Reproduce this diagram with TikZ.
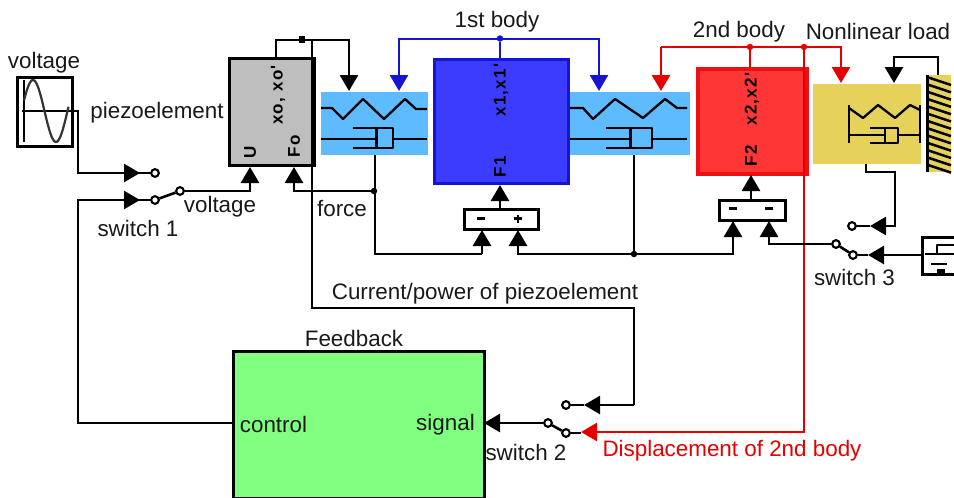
\documentclass[tikz,border=0pt]{standalone}
\usepackage{fontspec}
\setmainfont{Liberation Sans}
\newfontfamily\blkfont[LetterSpace=8]{Liberation Sans}
\usetikzlibrary{arrows.meta}
\definecolor{gfill}{HTML}{BEBEBE}
\definecolor{skyb}{HTML}{5FBBFF}
\definecolor{bluef}{HTML}{3C3CFF}
\definecolor{blued}{HTML}{1414D2}
\definecolor{redf}{HTML}{FF3636}
\definecolor{redd}{HTML}{EE1010}
\definecolor{yell}{HTML}{E6D25A}
\definecolor{greenf}{HTML}{80FF80}
\tikzset{
  lbl/.style={inner sep=0pt,yshift=-1.5pt,font=\fontsize{22.4}{24}\selectfont,text=black!90},
  vlbl/.style={inner sep=0pt,rotate=90,font=\blkfont\fontsize{17}{18}\bfseries\selectfont},
  wire/.style={line width=2.6pt,draw=black,line join=miter},
  bwire/.style={line width=2.6pt,draw=blued},
  rwire/.style={line width=2.6pt,draw=red!90!black},
  arr/.style={-{Triangle[length=16pt,width=18pt]}},
  swc/.style={circle,draw=black,line width=2pt,fill=white,minimum size=7.5pt,inner sep=0pt},
  jct/.style={circle,fill=black,minimum size=6.5pt,inner sep=0pt},
  block/.style={rectangle,anchor=north west,inner sep=0pt},
  sym/.style={line width=2.3pt,draw=black,line join=round},
  sumbox/.style={block,draw=black,line width=2.6pt,fill=white}
}
\begin{document}
\begin{tikzpicture}[x=1pt,y=-1pt]
\useasboundingbox (0,0) rectangle (954,498);
\clip (0,0) rectangle (954,498);

% ---------- filled blocks
\node[block,draw=black,line width=3pt,fill=gfill,minimum width=85pt,minimum height=107pt] (piezo) at (228,57) {};
\node[block,fill=skyb,minimum width=107pt,minimum height=63pt] (spr1) at (321,92) {};
\node[block,fill=skyb,minimum width=120pt,minimum height=63pt] (spr2) at (570,92) {};
\node[block,draw=blued,line width=3pt,fill=bluef,minimum width=134pt,minimum height=124pt] (body1) at (433,58) {};
\node[block,draw=redd,line width=3.5pt,fill=redf,minimum width=109pt,minimum height=105pt] (body2) at (696,67) {};
\node[block,fill=yell,minimum width=108pt,minimum height=80pt] (load) at (813,84) {};
\node[block,fill=yell,minimum width=25pt,minimum height=97pt] (wall) at (926,75) {};
\node[block,draw=black,line width=2.6pt,fill=greenf,minimum width=251pt,minimum height=147pt] (fb) at (232,350) {};
\node[block,draw=black,line width=2.6pt,fill=white,minimum width=55pt,minimum height=69pt] (src) at (16,76) {};
\node[sumbox,minimum width=74pt,minimum height=20pt] (sum1) at (463,208) {};
\node[sumbox,minimum width=66pt,minimum height=20pt] (sum2) at (718,199) {};
\node[block,draw=black,line width=2.6pt,minimum width=50pt,minimum height=37pt] (batt) at (921,236) {};

% ---------- source symbol
\draw[line width=2.6pt] (24,80) -- (24,142);
\draw[line width=2.2pt] (22,111) -- (71,111);
\draw[line width=2.2pt,black!80] plot[smooth,domain=24:68.5,samples=40] (\x,{111-31*sin(7.826*(\x-21.5))});

% ---------- spring/damper 1
\draw[sym] (321,108) -- (332,108) -- (343,119) -- (363,99) -- (384,119) -- (405,99) -- (416,109) -- (427,109);
\draw[sym] (321,139) -- (376,139) (393,139) -- (427,139);
\draw[sym] (353,128) -- (393,128) -- (393,148) -- (353,148);
\draw[line width=3pt] (376,128) -- (376,148);
% ---------- spring/damper 2
\draw[sym] (570,108) -- (583,108) -- (593,119) -- (615,99) -- (643,118) -- (665,99) -- (677,108) -- (687,108);
\draw[sym] (570,139) -- (630,139) (652,139) -- (687,139);
\draw[sym] (606,128) -- (652,128) -- (652,148) -- (606,148);
\draw[line width=3pt] (630,128) -- (630,148);
% ---------- nonlinear load symbol
\draw[line width=2.8pt] (849,105) -- (849,143) (920,105) -- (920,143);
\draw[sym] (849,108) -- (863,118) -- (878,105) -- (895,118) -- (910,105) -- (920,110);
\draw[sym] (849,135) -- (885,135) (898,135) -- (920,135);
\draw[sym] (870,128) -- (898,128) -- (898,143) -- (870,143);
\draw[line width=2.8pt] (885,128) -- (885,143);
% ---------- wall hatching
\draw[line width=3pt] (927,75) -- (927,172);
\foreach \k in {0,...,12}{
  \draw[line width=2.5pt] (927,{77+7.3*\k}) -- (951,{85+7.3*\k});
}
% ---------- battery symbol
\draw[sym] (925,254) -- (954,254) (937,254) -- (937,245) -- (954,245) (931,264) -- (947,264);
\draw[line width=3.5pt] (937,271) -- (945,271);

% ---------- sum signs
\draw[line width=2.2pt] (477,218.5) -- (485,218.5) (514,218.5) -- (522,218.5) (518,214.5) -- (518,222.5);
\draw[line width=2.2pt] (729,208.5) -- (737,208.5) (765,208.5) -- (773,208.5);

% ---------- switch contacts and junctions
\node[swc] (s1a) at (155,173) {};
\node[swc] (s1b) at (155,200) {};
\node[swc] (s1c) at (180,191) {};
\node[swc] (s2a) at (566,405) {};
\node[swc] (s2b) at (566,433) {};
\node[swc] (s2c) at (548,423) {};
\node[swc] (s3a) at (852,226) {};
\node[swc] (s3b) at (853,255) {};
\node[swc] (s3c) at (836,244) {};
\node[jct,rectangle,minimum size=6.5pt] (jtop) at (302,39.5) {};
\node[jct] (jforce) at (374,191) {};
\node[jct] (jd2) at (634,254) {};
\node[jct,fill=blued] (jblue) at (500,38.5) {};
\node[jct,fill=red] (jr1) at (750,47) {};
\node[jct,fill=red] (jr2) at (804,47) {};

% ---------- free-end coordinates
\coordinate (tU) at (250,167);
\coordinate (tF) at (294,167);
\coordinate (tS1) at (349,91);
\coordinate (tB1) at (399,91);
\coordinate (tB2) at (599,91);
\coordinate (tR1) at (661,91);
\coordinate (tR2) at (841,83);
\coordinate (tW) at (894,83);
\coordinate (tA) at (140,173);
\coordinate (tB) at (140,200);
\coordinate (t1) at (500,185);
\coordinate (t2) at (751,175);

% ---------- black connectors
\draw[wire] (232,423) -- (78,423) -- (78,200) -- (s1b);
\draw[wire] (71,111) -- (78,111) -- (78,173) -- (s1a);
\draw[wire,arr] (78,173) -- (tA);
\draw[wire,arr] (78,200) -- (tB);
\draw[wire] (s1b) -- (s1c);
\draw[wire,arr] (s1c) -- (250,191) -- (tU);
\draw[wire,arr] (jforce) -- (294,191) -- (tF);
\draw[wire,arr] (276,57) -- (276,40) -- (349,40) -- (tS1);
\draw[wire] (312,40) -- (312,308) -- (634,308) -- (634,405);
\draw[wire,arr] (634,405) -- (584,405);
\draw[wire] (584,405) -- (s2a);
\draw[wire,arr] (s2c) -- (484,423);
\draw[wire] (s2c) -- (s2b);
\draw[wire] (s2b) -- (581,433);
\draw[wire] (375,155) -- (375,254) -- (482,254);
\draw[wire,arr] (482,254) -- (482,230);
\draw[wire,arr] (634,254) -- (518,254) -- (518,230);
\draw[wire] (634,155) -- (jd2);
\draw[wire,arr] (jd2) -- (733,254) -- (733,221);
\draw[wire,arr] (sum1.north -| t1) -- (t1);
\draw[wire,arr] (sum2.north -| t2) -- (t2);

% ---------- red connectors
\draw[rwire] (jr1) -- (750,67);
\draw[rwire,arr] (661,47) -- (841,47) -- (tR2);
\draw[rwire,arr] (661,47) -- (tR1);
\draw[rwire,arr] (804,47) -- (804,432) -- (581,432);

% ---------- wires over the red line
\draw[wire,arr] (s3c) -- (769,244) -- (769,221);
\draw[wire] (s3c) -- (s3b);
\draw[wire,arr] (921,255) -- (868,255);
\draw[wire] (868,255) -- (s3b);
\draw[wire,arr] (866,164) -- (866,172) -- (895,172) -- (895,226) -- (870,226);
\draw[wire] (870,226) -- (s3a);
\draw[wire,arr] (938,75) -- (938,57) -- (894,57) -- (tW);

% ---------- blue connectors
\draw[bwire] (jblue) -- (500,58);
\draw[bwire,arr] (500,39) -- (399,39) -- (tB1);
\draw[bwire,arr] (500,39) -- (599,39) -- (tB2);

% ---------- redraw contacts over wires
\node[swc] at (s1a) {}; \node[swc] at (s1b) {}; \node[swc] at (s1c) {};
\node[swc] at (s2a) {}; \node[swc] at (s2b) {}; \node[swc] at (s2c) {};
\node[swc] at (s3a) {}; \node[swc] at (s3b) {}; \node[swc] at (s3c) {};

% ---------- vertical block labels
\node[vlbl] (xo) at (278,95) {xo, xo'};
\node[vlbl] (fo) at (294,146) {Fo};
\node[vlbl] (uu) at (250,152) {U};
\node[vlbl] (x1) at (501,90) {x1,x1'};
\node[vlbl] (f1) at (500,167) {F1};
\node[vlbl] (x2) at (752,99) {x2,x2'};
\node[vlbl] (f2) at (751,156) {F2};

% ---------- text labels
\node[lbl] (t-volt) at (44,61) {voltage};
\node[lbl] (t-piezo) at (157,111) {piezoelement};
\node[lbl] (t-volt2) at (220,205) {voltage};
\node[lbl] (t-sw1) at (138,227) {switch 1};
\node[lbl] (t-force) at (342,207) {force};
\node[lbl] (t-b1) at (497,20) {1st body};
\node[lbl] (t-b2) at (739,30) {2nd body};
\node[lbl] (t-nl) at (878,30) {Nonlinear load};
\node[lbl] (t-cur) at (485,292) {Current/power of piezoelement};
\node[lbl] (t-fb) at (354,337) {Feedback};
\node[lbl] (t-ctl) at (273.5,423) {control};
\node[lbl] (t-sig) at (445.5,423) {signal};
\node[lbl] (t-sw2) at (526,451) {switch 2};
\node[lbl] (t-sw3) at (854.5,276) {switch 3};
\node[lbl,text=red!90!black] (t-disp) at (732,449) {Displacement of 2nd body};
\end{tikzpicture}
\end{document}
